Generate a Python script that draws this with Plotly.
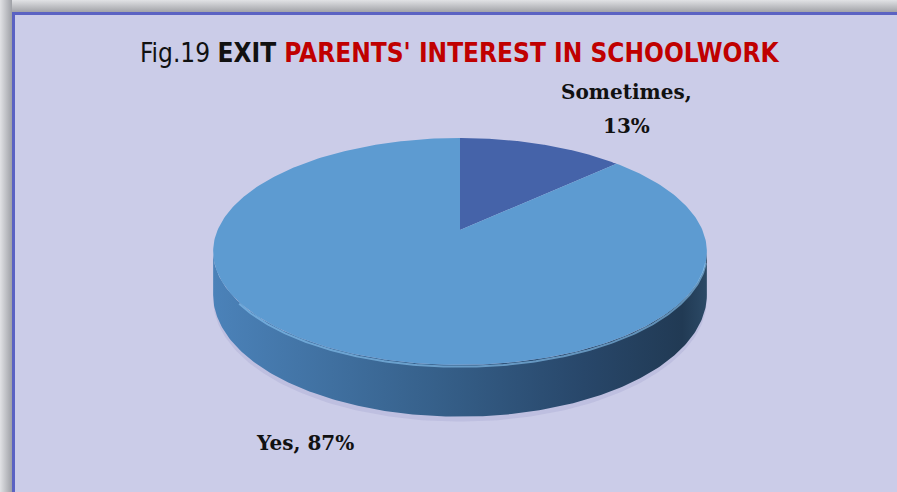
import numpy as np
import plotly.graph_objects as go

# ---- data ----
categories = ["Sometimes", "Yes"]
shares = [13, 87]
top_colors = ["#4563a9", "#5d9bd1"]

W, H = 897, 492

# ---- 3D pie projection (perspective-tilted disc, pixel space) ----
CX, CY = 460.0, 230.0      # projected centre of the disc
A, B = 109.4, 242.4        # vertical / horizontal radii before perspective
P = 0.189                  # perspective strength
DEPTH = 42.0               # thickness of the disc


def project(phi_deg, drop=0.0):
    phi = np.radians(np.asarray(phi_deg, dtype=float))
    d = np.cos(phi)
    s = np.sin(phi)
    den = 1.0 + P * d
    x = CX + B * s / den
    y = CY - A * d / den + drop / den
    return x, y


total = float(sum(shares))
bounds = np.concatenate([[0.0], np.cumsum(shares) / total * 360.0])

fig = go.Figure()

# frame: grey shadow strips, then the blue border
fig.add_trace(go.Scatter(
    x=[0, W, W, 0, 0], y=[0, 0, 12, 12, 0], mode="lines", line=dict(width=0),
    fill="toself", hoverinfo="skip", showlegend=False,
    fillgradient=dict(type="vertical", start=0, stop=12,
                      colorscale=[[0, "#e1e2e5"], [1, "#a2a3a8"]])))
fig.add_trace(go.Scatter(
    x=[0, 12, 12, 0, 0], y=[0, 0, H, H, 0], mode="lines", line=dict(width=0),
    fill="toself", hoverinfo="skip", showlegend=False,
    fillgradient=dict(type="horizontal", start=0, stop=12,
                      colorscale=[[0, "#e1e2e5"], [1, "#9ea0a6"]])))

# visible front arc of the side wall
vis_lo = np.degrees(np.arccos(-P))
vis_hi = 360.0 - vis_lo

# soft shadow under the disc
sh_phi = np.linspace(vis_lo - 10, vis_hi + 10, 160)
sx, sy = project(sh_phi, DEPTH + 4)
fig.add_trace(go.Scatter(x=np.concatenate([sx, [CX]]), y=np.concatenate([sy, [CY + 120]]),
                         mode="lines", line=dict(width=0), fill="toself",
                         fillcolor="rgba(150,152,200,0.25)", hoverinfo="skip", showlegend=False))

# side wall for every slice that faces the viewer
for i, cat in enumerate(categories):
    lo = max(bounds[i], vis_lo)
    hi = min(bounds[i + 1], vis_hi)
    if hi <= lo:
        continue
    phi = np.linspace(lo, hi, 200)
    tx, ty = project(phi)
    bx, by = project(phi[::-1], DEPTH)
    fig.add_trace(go.Scatter(
        x=np.concatenate([tx, bx, tx[:1]]), y=np.concatenate([ty, by, ty[:1]]),
        mode="lines", line=dict(width=0), fill="toself", hoverinfo="skip", showlegend=False,
        fillgradient=dict(type="horizontal",
                          colorscale=[[0, "#4b82b9"], [0.45, "#36608a"],
                                      [0.75, "#28476a"], [0.95, "#213a54"], [1, "#2c4a66"]])))

# top faces of the slices
for i, cat in enumerate(categories):
    phi = np.linspace(bounds[i], bounds[i + 1], 300)
    ex, ey = project(phi)
    fig.add_trace(go.Scatter(
        x=np.concatenate([[CX], ex, [CX]]), y=np.concatenate([[CY], ey, [CY]]),
        mode="lines", line=dict(width=0), fill="toself", fillcolor=top_colors[i],
        name=cat, hoverinfo="name", showlegend=False))

# light rim along the front edge of the top face
rim_phi = np.linspace(vis_lo + 5, vis_hi - 25, 200)
rx, ry = project(rim_phi, 1.5)
fig.add_trace(go.Scatter(x=rx, y=ry, mode="lines", line=dict(color="rgba(140,200,245,0.6)", width=2),
                         hoverinfo="skip", showlegend=False))

# title
fig.add_annotation(
    x=459, y=53, xref="x", yref="y", showarrow=False,
    text=("<span style='color:#111111'>Fig.19 </span>"
          "<b><span style='color:#111111'>EXIT </span>"
          "<span style='color:#c00000'>PARENTS' INTEREST IN SCHOOLWORK</span></b>"),
    font=dict(family="DejaVu Sans Condensed, Liberation Sans Narrow", size=26))

# data labels: category name and share
label_font = dict(family="DejaVu Serif", size=20, color="#111111")
fig.add_annotation(x=626, y=92, xref="x", yref="y", showarrow=False,
                   text=f"<b>{categories[0]},</b>", font=label_font)
fig.add_annotation(x=626, y=126, xref="x", yref="y", showarrow=False,
                   text=f"<b>{shares[0]}%</b>", font=label_font)
fig.add_annotation(x=305, y=443, xref="x", yref="y", showarrow=False,
                   text=f"<b>{categories[1]}, {shares[1]}%</b>", font=label_font)

fig.update_layout(
    width=W, height=H, margin=dict(l=0, r=0, t=0, b=0),
    paper_bgcolor="#cbcce8", plot_bgcolor="#cbcce8",
    xaxis=dict(range=[0, W], visible=False, fixedrange=True),
    yaxis=dict(range=[H, 0], visible=False, fixedrange=True),
    shapes=[
        dict(type="line", x0=12, x1=W, y0=13.5, y1=13.5, xref="x", yref="y",
             line=dict(color="#5b62c2", width=3)),
        dict(type="line", x0=13.5, x1=13.5, y0=12, y1=H, xref="x", yref="y",
             line=dict(color="#5b62c2", width=3)),
    ],
)

fig.write_html("out.html")
